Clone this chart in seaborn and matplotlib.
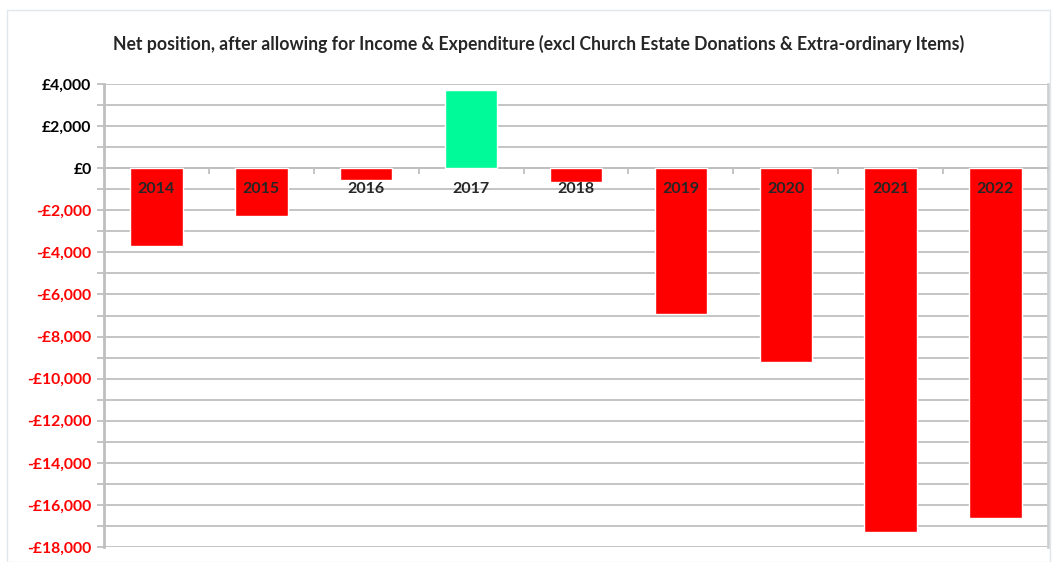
import matplotlib
matplotlib.use("Agg")
import matplotlib.pyplot as plt
import matplotlib.ticker as mticker
from matplotlib.patches import Rectangle
import seaborn as sns
import pandas as pd

# data
years = ["2014", "2015", "2016", "2017", "2018", "2019", "2020", "2021", "2022"]
net = [-3700, -2280, -580, 3700, -650, -6920, -9200, -17270, -16610]
title = "Net position, after allowing for Income & Expenditure (excl Church Estate Donations & Extra-ordinary Items)"

df = pd.DataFrame({"year": years, "net": net})
colours = ["#00fa9a" if v > 0 else "#ff0000" for v in net]

sns.set_style("white")
plt.rcParams["font.family"] = ["Lato", "DejaVu Sans"]

fig = plt.figure(figsize=(10.56, 5.62), dpi=100)
ax = fig.add_axes([104 / 1056, 1 - 547 / 562, 944 / 1056, 463 / 562])

sns.barplot(data=df, x="year", y="net", hue="year", palette=colours,
            width=0.5, legend=False, ax=ax, saturation=1, zorder=3)

grid_c = "#bfbfbf"
ax.set_ylim(-18000, 4000)
ax.set_xlim(-0.5, len(years) - 0.5)
ax.yaxis.set_major_locator(mticker.MultipleLocator(2000))
ax.yaxis.set_minor_locator(mticker.MultipleLocator(1000))
ax.grid(True, axis="y", which="both", color=grid_c, lw=1.3, zorder=0)
ax.set_axisbelow(True)

def money(v, pos):
    v = int(round(v))
    return ("-£{:,}" if v < 0 else "£{:,}").format(abs(v))

ax.yaxis.set_major_formatter(mticker.FuncFormatter(money))
ax.tick_params(axis="y", which="both", direction="out", length=5, width=1.3,
               color=grid_c, left=True, labelsize=11.3, pad=4)
for lab, v in zip(ax.get_yticklabels(), ax.get_yticks()):
    lab.set_fontweight("bold")
    lab.set_color("#ff0000" if v < 0 else "black")

# category axis sits on the zero line
ax.spines["bottom"].set_position(("data", 0))
ax.spines["bottom"].set_color(grid_c)
ax.spines["bottom"].set_linewidth(1.3)
ax.set_xticks([i + 0.5 for i in range(-1, len(years))])
ax.set_xticklabels([])
ax.tick_params(axis="x", direction="out", length=4, width=1.3, color=grid_c, bottom=True)
ax.spines["left"].set_color(grid_c)
ax.spines["left"].set_linewidth(2)
ax.spines["right"].set_color("#d0d0d0")
ax.spines["right"].set_linewidth(2)
ax.spines["top"].set_visible(False)
ax.set_xlabel("")
ax.set_ylabel("")

for i, y in enumerate(years):
    ax.annotate(y, (i, 0), xytext=(0, -10), textcoords="offset points",
                ha="center", va="top", fontsize=11.5, fontweight="bold", zorder=5)

fig.text(539 / 1056, 1 - 44 / 562, title, ha="center", va="center",
         fontsize=12.7, fontweight="bold")

fig.patches.append(Rectangle((7 / 1056, 0), 1043 / 1056, 1 - 10 / 562,
                             transform=fig.transFigure, fill=False,
                             edgecolor="#dfe6ee", lw=1))

fig.savefig("out.png", dpi=100)
